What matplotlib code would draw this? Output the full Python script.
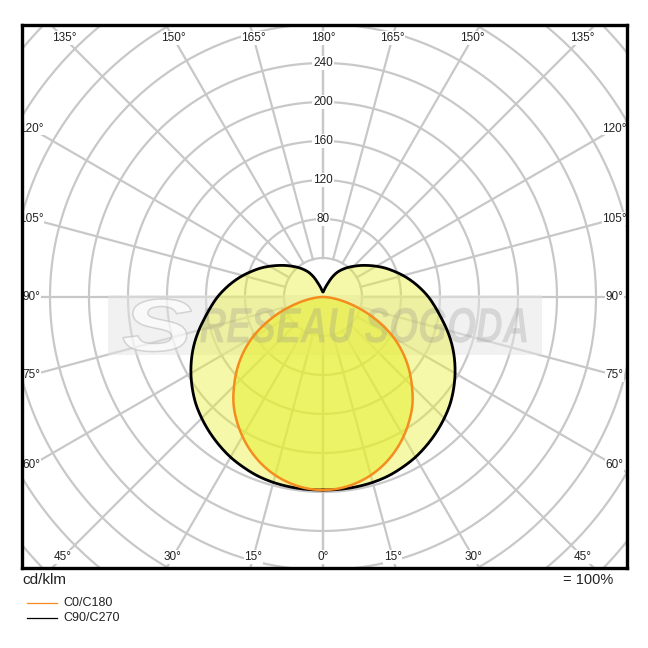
import matplotlib
matplotlib.use('Agg')

import numpy as np
import matplotlib.pyplot as plt
from matplotlib.lines import Line2D
from matplotlib.patches import Rectangle, PathPatch
from matplotlib.textpath import TextPath
from matplotlib.font_manager import FontProperties
from matplotlib.transforms import Affine2D

# intensites lues sur le diagramme (cd/klm), gamma de 0 a 180 par pas de 5
gamma = np.arange(0, 181, 5)
c0_c180 = [198, 197, 194, 189.3, 182.8, 174.7, 165.2, 154.5, 142.8, 129, 115, 100, 84, 66, 48, 31, 17, 7, 0,
           0, 0, 0, 0, 0, 0, 0, 0, 0, 0, 0, 0, 0, 0, 0, 0, 0, 0]
c90_c270 = [198, 198, 197.7, 196.9, 195.4, 192.8, 189.7, 185.6, 181, 175.9, 170.3, 163.6, 156.4,
            148.7, 140.5, 131.8, 123.1, 115.4, 108.2, 100.5, 92.8, 85.1, 77.4, 70.3, 63.1, 56.4,
            50.3, 44.6, 39.5, 34.4, 29.2, 22.6, 15.4, 10.8, 7.7, 5.6, 5.1]

rings = list(range(40, 481, 40))
ring_labels = [80, 120, 160, 200, 240]
angle_ticks = list(range(0, 181, 15))

plt.rcParams['font.family'] = ['Liberation Sans', 'DejaVu Sans']

grid_col = '#c8c8c8'
fill_col = '#e8ef30'
orange = '#f58c1e'
txt_col = '#222222'


def smooth(values, n=12):
    # catmull-rom sur r(gamma), symetrique aux deux bouts
    v = np.asarray(values, dtype=float)
    p = np.concatenate([[v[1]], v, [v[-2]]])
    ang, out = [], []
    for i in range(len(v) - 1):
        p0, p1, p2, p3 = p[i], p[i + 1], p[i + 2], p[i + 3]
        tt = np.linspace(0, 1, n, endpoint=False)
        seg = 0.5 * (2 * p1 + (-p0 + p2) * tt + (2 * p0 - 5 * p1 + 4 * p2 - p3) * tt ** 2
                     + (-p0 + 3 * p1 - 3 * p2 + p3) * tt ** 3)
        out.append(seg)
        ang.append(gamma[i] + tt * (gamma[i + 1] - gamma[i]))
    out.append([v[-1]])
    ang.append([gamma[-1]])
    return np.concatenate(ang), np.clip(np.concatenate(out), 0, None)


def to_xy(values, ang):
    a = np.radians(ang)
    v = np.asarray(values, dtype=float)
    return v * np.sin(a), -v * np.cos(a)


def closed_curve(values):
    ang, r = smooth(values)
    xr, yr = to_xy(r, ang)
    xs = np.concatenate([xr, -xr[::-1]])
    ys = np.concatenate([yr, yr[::-1]])
    return xs, ys


def fitted_text(s, x0, x1, y0, y1, **kw):
    prop = FontProperties(family='Liberation Sans', weight='bold', style='italic')
    tp = TextPath((0, 0), s, size=10, prop=prop)
    ext = tp.get_extents()
    tr = (Affine2D().translate(-ext.x0, -ext.y0)
          .scale((x1 - x0) / ext.width, (y1 - y0) / ext.height).translate(x0, y0))
    return PathPatch(tr.transform_path(tp), **kw)


fig = plt.figure(figsize=(6.48, 6.48), dpi=100)
ax = fig.add_axes([22 / 648, 80 / 648, 605 / 648, 543 / 648])
ax.set_xlim(-308.7, 311.8)
ax.set_ylim(-278, 279)
ax.set_xticks([])
ax.set_yticks([])
for sp in ax.spines.values():
    sp.set_linewidth(2.4)
    sp.set_color('black')
    sp.set_zorder(10)

# grille polaire
t = np.linspace(0, 2 * np.pi, 400)
for r in rings:
    ax.plot(r * np.cos(t), r * np.sin(t), color=grid_col, lw=1.6, zorder=1)
for a in angle_ticks:
    x, y = to_xy([40, 700], a)
    ax.plot(x, y, color=grid_col, lw=1.6, zorder=1)
    ax.plot(-x, y, color=grid_col, lw=1.6, zorder=1)

# filigrane
ax.add_patch(Rectangle((-220, -60), 445, 62, facecolor='#e4e4e4', edgecolor='none',
                       alpha=0.5, zorder=2))
ax.add_patch(fitted_text('S', -205, -135, -56, -2, facecolor='white', edgecolor='#bcbcbc',
                         lw=1.1, alpha=0.6, zorder=2))

# courbes
x90, y90 = closed_curve(c90_c270)
x0, y0 = closed_curve(c0_c180)
ax.fill(x90, y90, color=fill_col, alpha=0.42, lw=0, zorder=3)
ax.fill(x0, y0, color=fill_col, alpha=0.55, lw=0, zorder=3)

ax.add_patch(fitted_text('RESEAU SOGODA', -126, 209, -47, -11, facecolor='#8a8a8a',
                         edgecolor='none', alpha=0.26, zorder=4))

ax.plot(x90, y90, color='black', lw=2.0, zorder=5, solid_joinstyle='round')
ax.plot(x0, y0, color=orange, lw=1.8, zorder=5, solid_joinstyle='round')

# etiquettes des cercles
for v in ring_labels:
    ax.text(0, v, str(v), fontsize=8.5, ha='center', va='center', color=txt_col, zorder=6,
            bbox=dict(facecolor='white', edgecolor='none', pad=0.5))

# etiquettes des angles
half_x, y_top, y_bot = 299, 265.6, -266.7
for a in angle_ticks:
    s = np.sin(np.radians(a))
    c = -np.cos(np.radians(a))
    cands = []
    if s > 1e-9:
        cands.append(half_x / s)
    if c > 1e-9:
        cands.append(y_top / c)
    if c < -1e-9:
        cands.append(-y_bot / -c)
    k = min(cands)
    sides = [1] if a in (0, 180) else [1, -1]
    for sd in sides:
        ax.text(sd * k * s, k * c, f'{a}°', fontsize=8.5, ha='center', va='center',
                color=txt_col, zorder=6,
                bbox=dict(facecolor='white', edgecolor='none', pad=0.4))

# textes et legende sous le cadre
fig.text(22 / 648, 1 - 580 / 648, 'cd/klm', fontsize=11, ha='left', va='center', color=txt_col)
fig.text(613 / 648, 1 - 580 / 648, '= 100%', fontsize=10.5, ha='right', va='center', color=txt_col)
for yy, col, lab in [(603, orange, 'C0/C180'), (618, 'black', 'C90/C270')]:
    fig.add_artist(Line2D([27 / 648, 57 / 648], [1 - yy / 648] * 2, color=col, lw=0.9))
    fig.text(63 / 648, 1 - yy / 648, lab, fontsize=9, ha='left', va='center', color=txt_col)

plt.savefig('out.png', dpi=100)
